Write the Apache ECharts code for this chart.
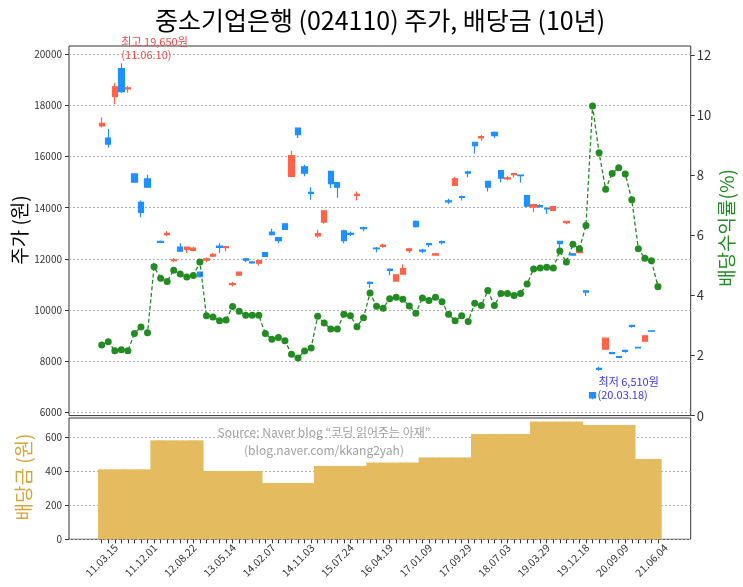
<!DOCTYPE html>
<html><head><meta charset="utf-8">
<script src="https://cdn.jsdelivr.net/npm/echarts@6/dist/echarts.min.js"></script>
<style>html,body{margin:0;padding:0;background:#fff}#c{width:743px;height:587px}</style>
</head><body><div id="c"></div>
<script>
// ---- data ----
const tickLabels = ['11.03.15','11.12.01','12.08.22','13.05.14','14.02.07','14.11.03','15.07.24','16.04.19','17.01.09','17.09.29','18.07.03','19.03.29','19.12.18','20.09.09','21.06.04'];
const opens  = [17200,16725,18340,19440,18650,15320,14210,15130,11780,12690,12950,11930,12460,12370,12330,11480,11950,12110,12500,12440,10990,11360,12000,11880,11830,12250,13050,12830,13370,15230,17110,15600,14600,12900,13440,15420,14980,13100,13000,14480,13220,11080,12420,12490,11600,11130,11400,12320,13470,12340,12600,12150,12680,14270,14870,14440,15400,16560,16730,15030,16950,15450,15130,15290,15280,14475,14020,14080,13990,13900,12690,13420,12200,12240,10750,6770,7720,8470,8330,8180,8420,9400,8540,8780,9190,10860];
const closes = [17300,16490,18730,18540,18690,15000,13820,14800,11700,12640,13000,11960,12300,12460,12420,11300,12000,12180,12450,12480,11030,11480,11950,11840,11930,12100,12950,12710,13150,16040,16860,15350,14560,12990,13880,14940,14800,12710,12960,14520,13180,11040,12400,12540,11550,11380,11620,12390,13260,12300,12560,12200,12630,14230,15130,14400,15350,16430,16780,14800,16820,15160,15170,15330,15250,14060,14120,14040,13950,14040,12600,13470,12150,12390,10700,6560,7680,8900,8290,8150,8380,9360,8520,8990,9170,11000];
const lows   = [17140,16360,18050,18490,18500,14990,13630,14790,11650,12620,12880,11870,12290,12225,12300,11270,11870,12070,12240,12300,10920,11350,11870,11810,11740,12070,12910,12610,13140,15230,16730,15230,14310,12830,13370,14770,14390,12615,12890,14280,13085,10870,12260,12435,11355,11120,11390,12225,13230,12225,12460,12135,12565,14150,14860,14280,15190,16120,16620,14630,16725,14990,15070,15190,14990,14020,13820,13995,13760,13890,12200,13350,12135,12225,10550,6510,7620,8460,8270,8130,8325,9310,8500,8755,9145,10840];
const highs  = [17530,17080,18890,19650,18760,15350,14280,15290,11850,12720,13090,12030,12610,12470,12470,11500,12050,12230,12615,12490,11100,11490,12030,11900,11950,12270,13180,12850,13380,16230,17140,15680,14800,13140,13880,15440,15000,13140,13075,14630,13270,11120,12460,12590,11615,11380,11780,12435,13500,12400,12615,12225,12720,14350,15200,14476,15450,16560,16840,15030,16985,15470,15230,15360,15300,14500,14130,14150,13995,14050,12690,13470,12225,12400,10770,6790,7780,8910,8360,8195,8456,9405,8560,9015,9210,11120];
const yields = [2.35,2.46,2.16,2.19,2.16,2.73,2.95,2.76,4.95,4.57,4.46,4.84,4.71,4.61,4.66,5.11,3.32,3.28,3.16,3.18,3.63,3.47,3.34,3.34,3.34,2.73,2.54,2.60,2.49,2.04,1.92,2.15,2.25,3.31,3.08,2.88,2.88,3.37,3.32,2.96,3.26,4.08,3.64,3.57,3.89,3.94,3.87,3.65,3.41,3.91,3.83,3.94,3.79,3.37,3.16,3.32,3.13,3.74,3.66,4.16,3.66,4.06,4.06,4.00,4.06,4.38,4.88,4.91,4.94,4.91,5.48,5.11,5.70,5.55,6.33,10.30,8.75,7.53,8.06,8.25,8.04,7.18,5.55,5.24,5.15,4.29];
const dividends = [410,410,410,410,410,410,410,410,580,580,580,580,580,580,580,580,400,400,400,400,400,400,400,400,400,330,330,330,330,330,330,330,330,430,430,430,430,430,430,430,430,450,450,450,450,450,450,450,450,480,480,480,480,480,480,480,480,617,617,617,617,617,617,617,617,617,690,690,690,690,690,690,690,690,670,670,670,670,670,670,670,670,471,471,471,471];
const maxDate = '(11.06.10)';
const minDate = '(20.03.18)';
const titleText = '중소기업은행 (024110) 주가, 배당금 (10년)';
const sourceLines = ['Source: Naver blog \u201c코딩 읽어주는 아재\u201d', '(blog.naver.com/kkang2yah)'];

// ---- chart ----
const N = opens.length, PAD = 5, TOT = N + 2 * PAD, LABEL_STEP = 6;
const cats = []; for (let i = 0; i < TOT; i++) cats.push('c' + i);
const labelAt = {}; tickLabels.forEach((t, k) => { labelAt[PAD + LABEL_STEP * k] = t; });
const candle = opens.map((o, i) => [i + PAD, o, closes[i], lows[i], highs[i]]);
const yieldData = yields.map((v, i) => [i + PAD, v]);
const divData = dividends.map((v, i) => [i + PAD, v]);

const L = 69, W = 621.7;
const FONT = '"Noto Sans CJK KR", "Noto Sans", sans-serif';
const AX = '#333';
function hiddenX(gi) { return { type: 'category', data: cats, boundaryGap: false, gridIndex: gi, show: false }; }

const chart = echarts.init(document.getElementById('c'));
const option = {
  animation: false,
  backgroundColor: '#fff',
  textStyle: { fontFamily: FONT },
  grid: [
    { left: L, width: W, top: 46, height: 369.6, show: true, borderColor: AX, borderWidth: 1, backgroundColor: 'transparent' },
    { left: L, width: W, top: 54.3, height: 358 },
    { left: L, width: W, top: 55, height: 360.6 },
    { left: L, width: W, top: 418, height: 121.3, show: true, borderColor: AX, borderWidth: 1, backgroundColor: 'transparent' }
  ],
  xAxis: [hiddenX(0), hiddenX(1), hiddenX(2), {
    type: 'category', data: cats, boundaryGap: false, gridIndex: 3,
    axisLine: { show: false },
    axisTick: { show: true, length: 4, interval: (idx) => idx >= PAD && idx < PAD + N, lineStyle: { color: AX } },
    axisLabel: { interval: (idx) => labelAt[idx] !== undefined, formatter: (v, idx) => labelAt[idx] || '',
      rotate: 45, align: 'center', verticalAlign: 'middle', margin: 21, fontSize: 10.5, color: '#333', fontFamily: FONT },
    splitLine: { show: false }
  }],
  yAxis: [
    { gridIndex: 0, show: false, min: 0, max: 1, splitLine: { show: false } },
    { gridIndex: 1, type: 'value', min: 6000, max: 20000, interval: 2000, position: 'left',
      axisLine: { show: false }, axisTick: { show: true, length: 4, lineStyle: { color: AX } },
      axisLabel: { fontSize: 10, color: '#333', margin: 7, fontFamily: FONT, formatter: (v) => String(v) },
      splitLine: { show: true, lineStyle: { color: '#b0b0b0', type: [2, 2], width: 1 } } },
    { gridIndex: 2, type: 'value', min: 0, max: 12, interval: 2, position: 'right',
      axisLine: { show: false }, axisTick: { show: true, length: 4, lineStyle: { color: AX } },
      axisLabel: { fontSize: 13, color: '#333', margin: 6, fontFamily: FONT, formatter: (v) => String(v) },
      splitLine: { show: false } },
    { gridIndex: 3, type: 'value', min: 0, max: 711, interval: 200, position: 'left',
      axisLine: { show: false },
      axisTick: { show: true, length: 4, lineStyle: { color: AX }, customValues: [0, 200, 400, 600] },
      axisLabel: { fontSize: 10, color: '#333', margin: 7, fontFamily: FONT, customValues: [0, 200, 400, 600],
        formatter: (v) => (v % 200 === 0 ? String(v) : '') },
      splitLine: { show: true, lineStyle: { color: '#b0b0b0', type: [2, 2], width: 1 } } }
  ],
  series: [
    { type: 'candlestick', xAxisIndex: 1, yAxisIndex: 1, data: candle, encode: { x: 0, y: [1, 2, 3, 4] },
      barWidth: 5.8, z: 2,
      itemStyle: { color: '#ff6347', color0: '#1e90ff', borderColor: '#ff6347', borderColor0: '#1e90ff', borderWidth: 1.2 } },
    { type: 'line', xAxisIndex: 2, yAxisIndex: 2, data: yieldData, z: 5,
      symbol: 'circle', symbolSize: 7, showSymbol: true, showAllSymbol: true,
      lineStyle: { color: '#228b22', width: 1.3, type: [4, 2.5] },
      itemStyle: { color: '#228b22' } },
    { type: 'bar', xAxisIndex: 3, yAxisIndex: 3, data: divData, barWidth: 7.4,
      itemStyle: { color: '#e4bc5f', borderWidth: 0 } }
  ]
};
chart.setOption(option);

function fmt(n) { return String(n).replace(/\B(?=(\d{3})+(?!\d))/g, ','); }
let iMax = 0, iMin = 0;
highs.forEach((v, i) => { if (v > highs[iMax]) iMax = i; });
lows.forEach((v, i) => { if (v < lows[iMin]) iMin = i; });
const pMax = chart.convertToPixel({ gridIndex: 1 }, [iMax + PAD, highs[iMax]]);
const pMin = chart.convertToPixel({ gridIndex: 1 }, [iMin + PAD, lows[iMin]]);

const g = [
  { type: 'text', silent: true, x: 380, y: 20,
    style: { text: titleText, font: '25px ' + FONT, fill: '#000', textAlign: 'center', textVerticalAlign: 'middle' } },
  { type: 'text', silent: true, x: 20, y: 230, rotation: Math.PI / 2,
    style: { text: '주가 (원)', font: '19px ' + FONT, fill: '#000', textAlign: 'center', textVerticalAlign: 'middle' } },
  { type: 'text', silent: true, x: 727, y: 228, rotation: Math.PI / 2,
    style: { text: '배당수익률(%)', font: '19px ' + FONT, fill: '#228b22', textAlign: 'center', textVerticalAlign: 'middle' } },
  { type: 'text', silent: true, x: 24, y: 477, rotation: Math.PI / 2,
    style: { text: '배당금 (원)', font: '19px ' + FONT, fill: '#d4a537', textAlign: 'center', textVerticalAlign: 'middle' } },
  { type: 'text', silent: true, x: 324, y: 432,
    style: { text: sourceLines[0], font: '12px ' + FONT, fill: '#a0a0a0', textAlign: 'center', textVerticalAlign: 'middle' } },
  { type: 'text', silent: true, x: 324, y: 450,
    style: { text: sourceLines[1], font: '12px ' + FONT, fill: '#a0a0a0', textAlign: 'center', textVerticalAlign: 'middle' } },
  { type: 'text', silent: true, x: pMax[0], y: pMax[1] - 21,
    style: { text: '최고 ' + fmt(highs[iMax]) + '원', font: '11px ' + FONT, fill: '#f24848', textAlign: 'left', textVerticalAlign: 'middle' } },
  { type: 'text', silent: true, x: pMax[0], y: pMax[1] - 8.5,
    style: { text: maxDate, font: '11px ' + FONT, fill: '#f24848', textAlign: 'left', textVerticalAlign: 'middle' } },
  { type: 'text', silent: true, x: pMin[0] + 6, y: pMin[1] - 17,
    style: { text: '최저 ' + fmt(lows[iMin]) + '원', font: '11px ' + FONT, fill: '#3838ee', textAlign: 'left', textVerticalAlign: 'middle' } },
  { type: 'text', silent: true, x: pMin[0] + 5, y: pMin[1] - 4,
    style: { text: minDate, font: '11px ' + FONT, fill: '#3838ee', textAlign: 'left', textVerticalAlign: 'middle' } }
];
chart.setOption({ graphic: g }, { replaceMerge: ['graphic'] });
</script>
</body></html>
